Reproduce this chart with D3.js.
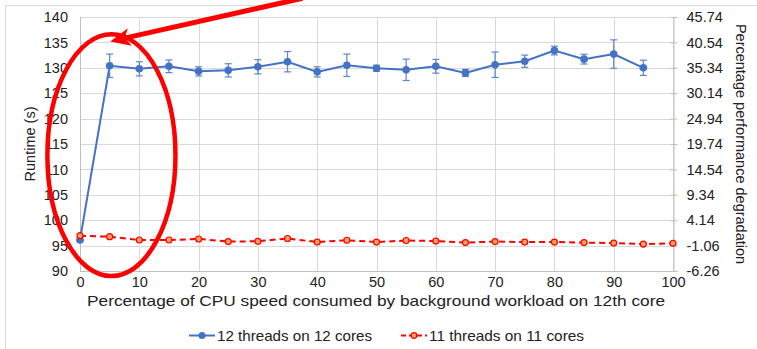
<!DOCTYPE html>
<html>
<head>
<meta charset="utf-8">
<script src="https://cdn.jsdelivr.net/npm/d3@7"></script>
<style>
  html, body { margin: 0; padding: 0; background: #fff; }
  svg { display: block; font-family: "Liberation Sans", Arial, sans-serif; }
</style>
</head>
<body>
<svg id="chart" width="757" height="349"></svg>
<script>
// Background load on the 12th core (% of CPU speed)
const loadLevels12 = [0, 5, 10, 15, 20, 25, 30, 35, 40, 45, 50, 55, 60, 65, 70, 75, 80, 85, 90, 95];
const runtime12 = [96.1, 130.4, 129.8, 130.3, 129.3, 129.5, 130.2, 131.2, 129.2, 130.5, 129.9, 129.6, 130.3, 129.0, 130.6, 131.3, 133.4, 131.7, 132.7, 130.0];
const err12 = [0.2, 2.3, 1.4, 1.25, 0.9, 1.3, 1.4, 2.0, 1.0, 2.2, 0.6, 2.1, 1.35, 0.7, 2.5, 1.2, 0.85, 0.95, 2.8, 1.5];

const loadLevels11 = [0, 5, 10, 15, 20, 25, 30, 35, 40, 45, 50, 55, 60, 65, 70, 75, 80, 85, 90, 95, 100];
const runtime11 = [96.95, 96.75, 96.1, 96.1, 96.3, 95.8, 95.85, 96.4, 95.7, 96.05, 95.7, 96.0, 95.9, 95.6, 95.8, 95.7, 95.7, 95.6, 95.5, 95.3, 95.45];
const err11 = [0.3, 0.4, 0.2, 0.2, 0.2, 0.3, 0.2, 0.2, 0.2, 0.2, 0.2, 0.2, 0.2, 0.2, 0.2, 0.45, 0.2, 0.2, 0.2, 0.2, 0.2];

const xTicks = [0, 10, 20, 30, 40, 50, 60, 70, 80, 90, 100];
const yTicks = [90, 95, 100, 105, 110, 115, 120, 125, 130, 135, 140];
const degradationTicks = ["-6.26", "-1.06", "4.14", "9.34", "14.54", "19.74", "24.94", "30.14", "35.34", "40.54", "45.74"];

const seriesNames = ["12 threads on 12 cores", "11 threads on 11 cores"];

const svg = d3.select("#chart");
const plotLeft = 80, plotRight = 673, plotTop = 17, plotBottom = 271;

const x = d3.scaleLinear().domain([0, 100]).range([plotLeft, plotRight]);
const y = d3.scaleLinear().domain([90, 140]).range([plotBottom, plotTop]);
const yRight = d3.scaleLinear().domain([-6.26, 45.74]).range([plotBottom, plotTop]);

const gridColor = "#d9d9d9";
const axisColor = "#bfbfbf";
const textColor = "#222";
const fontFamily = "Liberation Sans, Arial, sans-serif";

// chart area frame
svg.append("line").attr("x1", 5.5).attr("x2", 757).attr("y1", 5.5).attr("y2", 5.5)
  .attr("stroke", gridColor).attr("stroke-width", 1);
svg.append("line").attr("x1", 5.5).attr("x2", 5.5).attr("y1", 5.5).attr("y2", 349)
  .attr("stroke", gridColor).attr("stroke-width", 1);

// gridlines
const grid = svg.append("g");
grid.selectAll("line.h").data(yTicks).join("line").attr("class", "h")
  .attr("x1", plotLeft).attr("x2", plotRight)
  .attr("y1", d => Math.round(y(d)) + 0.5).attr("y2", d => Math.round(y(d)) + 0.5)
  .attr("stroke", gridColor).attr("stroke-width", 1);
grid.selectAll("line.v").data(xTicks).join("line").attr("class", "v")
  .attr("x1", d => Math.round(x(d)) + 0.5).attr("x2", d => Math.round(x(d)) + 0.5)
  .attr("y1", plotTop).attr("y2", plotBottom)
  .attr("stroke", gridColor).attr("stroke-width", 1);

// left axis
const yAxis = d3.axisLeft(y).tickValues(yTicks).tickSize(0).tickPadding(12);
const gy = svg.append("g").attr("transform", `translate(${plotLeft},0)`).call(yAxis);
gy.select(".domain").remove();
gy.selectAll("text").attr("font-size", 14.5).attr("fill", textColor).attr("font-family", fontFamily);

// right axis
const yRightAxis = d3.axisRight(yRight)
  .tickValues(degradationTicks.map(Number))
  .tickFormat((d, i) => degradationTicks[i])
  .tickSize(4).tickPadding(9);
const gr = svg.append("g").attr("transform", `translate(${Math.round(plotRight) + 0.5},0)`).call(yRightAxis);
gr.select(".domain").attr("stroke", axisColor);
gr.selectAll(".tick line").attr("stroke", axisColor).attr("x1", -3);
gr.selectAll("text").attr("font-size", 14.5).attr("fill", textColor).attr("font-family", fontFamily);

// bottom axis
const xAxis = d3.axisBottom(x).tickValues(xTicks).tickSize(0).tickPadding(5);
const gx = svg.append("g").attr("transform", `translate(0,${Math.round(plotBottom) + 0.5})`).call(xAxis);
gx.select(".domain").attr("stroke", axisColor).attr("d", `M${plotLeft},0H${plotRight + 5}`);
gx.selectAll("text").attr("font-size", 14.5).attr("fill", textColor).attr("font-family", fontFamily);

// left axis line
svg.append("line").attr("x1", plotLeft + 0.5).attr("x2", plotLeft + 0.5).attr("y1", plotTop).attr("y2", plotBottom)
  .attr("stroke", axisColor);

// axis titles
svg.append("text").attr("x", 376).attr("y", 306).attr("text-anchor", "middle")
  .attr("font-size", 15).attr("fill", textColor)
  .attr("textLength", 578).attr("lengthAdjust", "spacingAndGlyphs")
  .text("Percentage of CPU speed consumed by background workload on 12th core");
svg.append("text").attr("transform", "translate(35,144) rotate(-90)").attr("text-anchor", "middle")
  .attr("font-size", 14.5).attr("fill", textColor).text("Runtime (s)");
svg.append("text").attr("transform", "translate(736,144) rotate(90)").attr("text-anchor", "middle")
  .attr("font-size", 14.5).attr("fill", textColor).text("Percentage performance degradation");

// series
const blue = "#4472c4";
const red = "#ff0000";
const orange = "#f7a35c";

const d12 = loadLevels12.map((v, i) => ({ x: v, y: runtime12[i], e: err12[i] }));
const d11 = loadLevels11.map((v, i) => ({ x: v, y: runtime11[i], e: err11[i] }));

const line = d3.line().x(d => x(d.x)).y(d => y(d.y));

// error bars
function errorBars(data, color, cap) {
  const g = svg.append("g").attr("stroke", color).attr("stroke-width", 1.2);
  g.selectAll("line.stem").data(data).join("line").attr("class", "stem")
    .attr("x1", d => x(d.x)).attr("x2", d => x(d.x))
    .attr("y1", d => y(d.y + d.e)).attr("y2", d => y(d.y - d.e));
  g.selectAll("line.top").data(data).join("line").attr("class", "top")
    .attr("x1", d => x(d.x) - cap).attr("x2", d => x(d.x) + cap)
    .attr("y1", d => y(d.y + d.e)).attr("y2", d => y(d.y + d.e));
  g.selectAll("line.bot").data(data).join("line").attr("class", "bot")
    .attr("x1", d => x(d.x) - cap).attr("x2", d => x(d.x) + cap)
    .attr("y1", d => y(d.y - d.e)).attr("y2", d => y(d.y - d.e));
}

svg.append("path").datum(d12).attr("d", line).attr("fill", "none")
  .attr("stroke", blue).attr("stroke-width", 2);
errorBars(d12, "#5b85d0", 3.5);
svg.append("g").selectAll("circle").data(d12).join("circle")
  .attr("cx", d => x(d.x)).attr("cy", d => y(d.y)).attr("r", 3.8).attr("fill", blue);

svg.append("path").datum(d11).attr("d", line).attr("fill", "none")
  .attr("stroke", red).attr("stroke-width", 2).attr("stroke-dasharray", "6,4");
errorBars(d11, orange, 3);
svg.append("g").selectAll("circle").data(d11).join("circle")
  .attr("cx", d => x(d.x)).attr("cy", d => y(d.y)).attr("r", 3)
  .attr("fill", orange).attr("stroke", red).attr("stroke-width", 1.2);

// legend
const legend = svg.append("g");
const legendItems = [
  { name: seriesNames[0], x0: 189, color: blue, dash: null, fill: blue, stroke: "none", r: 3.5 },
  { name: seriesNames[1], x0: 401, color: red, dash: "5,3", fill: orange, stroke: red, r: 2.8 }
];
legendItems.forEach(it => {
  legend.append("line").attr("x1", it.x0).attr("x2", it.x0 + 26).attr("y1", 335.5).attr("y2", 335.5)
    .attr("stroke", it.color).attr("stroke-width", 2).attr("stroke-dasharray", it.dash);
  legend.append("circle").attr("cx", it.x0 + 13).attr("cy", 335.5).attr("r", it.r)
    .attr("fill", it.fill).attr("stroke", it.stroke).attr("stroke-width", 1.2);
  legend.append("text").attr("x", it.x0 + 28).attr("y", 340.5).attr("font-size", 14.5)
    .attr("textLength", 155).attr("lengthAdjust", "spacingAndGlyphs")
    .attr("fill", textColor).text(it.name);
});

// highlight: ellipse around the jump between 0% and 5% load, with pointer arrow
const hl = svg.append("g");
hl.append("ellipse")
  .attr("cx", x(5.3)).attr("cy", y(112.8)).attr("rx", x(10.8) - x(0)).attr("ry", y(89) - y(112.8))
  .attr("fill", "none").attr("stroke", red).attr("stroke-width", 4.5);
const tip = [x(5.1), y(135.2)];
const tail = [x(37.5), y(143.7)];
const ang = Math.atan2(tip[1] - tail[1], tip[0] - tail[0]);
const headLen = 20, headW = 9;
const back = [tip[0] - headLen * Math.cos(ang), tip[1] - headLen * Math.sin(ang)];
hl.append("line").attr("x1", tail[0]).attr("y1", tail[1])
  .attr("x2", back[0] + 4 * Math.cos(ang)).attr("y2", back[1] + 4 * Math.sin(ang))
  .attr("stroke", red).attr("stroke-width", 5);
const px = -Math.sin(ang), py = Math.cos(ang);
hl.append("path")
  .attr("d", `M${tip[0]},${tip[1]}L${back[0] + headW * px},${back[1] + headW * py}L${back[0] + 5 * Math.cos(ang)},${back[1] + 5 * Math.sin(ang)}L${back[0] - headW * px},${back[1] - headW * py}Z`)
  .attr("fill", red);
</script>
</body>
</html>
